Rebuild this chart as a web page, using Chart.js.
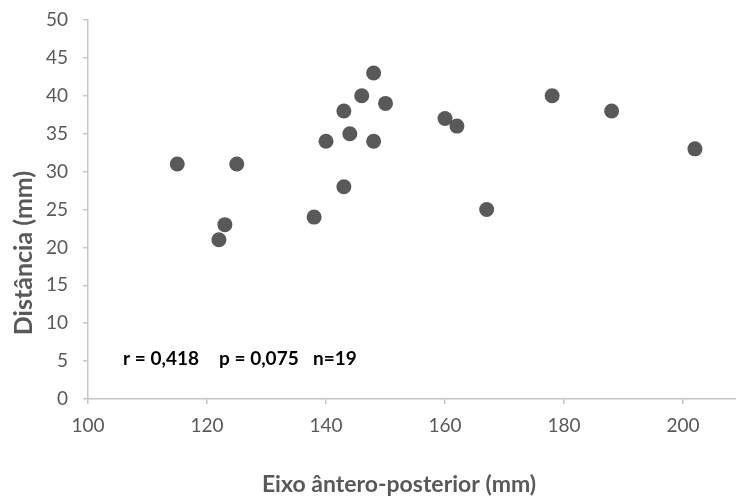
<!DOCTYPE html>
<html>
<head>
<meta charset="utf-8">
<script src="https://cdn.jsdelivr.net/npm/chart.js@4/dist/chart.umd.min.js"></script>
<style>
  html, body { margin: 0; padding: 0; background: #ffffff; }
  #wrap { width: 736px; height: 498px; }
</style>
</head>
<body>
<div id="wrap"><canvas id="c" width="736" height="498"></canvas></div>
<script>
// Data
const eixoAP = [115, 122, 123, 125, 138, 140, 143, 143, 144, 146, 148, 148, 150, 160, 162, 167, 178, 188, 202];
const distancia = [31, 21, 23, 31, 24, 34, 28, 38, 35, 40, 43, 34, 39, 37, 36, 25, 40, 38, 33];
const xTickValues = [100, 120, 140, 160, 180, 200];
const yTickValues = [0, 5, 10, 15, 20, 25, 30, 35, 40, 45, 50];
const xTitle = 'Eixo ântero-posterior (mm)';
const yTitle = 'Distância (mm)';
const statsTexts = ['r = 0,418', 'p = 0,075', 'n=19'];

const points = eixoAP.map((x, i) => ({ x: x, y: distancia[i] }));

const FONT = "Lato, 'Open Sans', 'DejaVu Sans', sans-serif";
const GREY = '#595959';
const AXIS = '#c6c6c6';

const textPlugin = {
  id: 'textPlugin',
  afterDraw(chart) {
    const ctx = chart.ctx;
    const xs = chart.scales.x, ys = chart.scales.y;
    ctx.save();
    // axis titles
    ctx.fillStyle = GREY;
    ctx.font = "bold 23px " + FONT;
    ctx.textAlign = 'center';
    ctx.textBaseline = 'middle';
    ctx.fillText(xTitle, 399, 485);
    ctx.save();
    ctx.font = "bold 25px " + FONT;
    ctx.translate(24, 253);
    ctx.rotate(-Math.PI / 2);
    ctx.fillText(yTitle, 0, 0);
    ctx.restore();
    // statistics annotation
    ctx.fillStyle = '#000000';
    ctx.font = "bold 19px " + FONT;
    ctx.textAlign = 'left';
    const xStart = xs.getPixelForValue(105.9);
    const yMid = ys.getPixelForValue(5.3);
    const offsets = [0, 96, 190];
    statsTexts.forEach((t, i) => ctx.fillText(t, xStart + offsets[i], yMid));
    ctx.restore();
  }
};

new Chart(document.getElementById('c'), {
  type: 'scatter',
  data: {
    datasets: [{
      data: points,
      backgroundColor: GREY,
      borderColor: GREY,
      borderWidth: 0,
      pointRadius: 7.5,
      pointHoverRadius: 7.5
    }]
  },
  options: {
    responsive: false,
    animation: false,
    events: [],
    layout: { autoPadding: false, padding: { top: 20, right: 0, left: 0, bottom: 0 } },
    plugins: { legend: { display: false }, tooltip: { enabled: false } },
    scales: {
      x: {
        type: 'linear',
        min: 100,
        max: 208.9,
        afterBuildTicks(scale) { scale.ticks = xTickValues.map(v => ({ value: v })); },
        afterFit(scale) { scale.height = 99; scale.paddingLeft = 0; scale.paddingRight = 0; },
        grid: { display: true, drawOnChartArea: false, drawTicks: true, tickLength: 5, color: AXIS, lineWidth: 1.5 },
        border: { display: true, color: AXIS, width: 1.5 },
        ticks: { color: GREY, font: { family: FONT, size: 19 }, padding: 10, maxRotation: 0 }
      },
      y: {
        type: 'linear',
        min: 0,
        max: 50,
        afterBuildTicks(scale) { scale.ticks = yTickValues.map(v => ({ value: v })); },
        afterFit(scale) { scale.width = 88; scale.paddingTop = 0; scale.paddingBottom = 0; },
        grid: { display: true, drawOnChartArea: false, drawTicks: true, tickLength: 5, color: AXIS, lineWidth: 1.5 },
        border: { display: true, color: AXIS, width: 1.5 },
        ticks: { color: GREY, font: { family: FONT, size: 19 }, padding: 15 }
      }
    }
  },
  plugins: [textPlugin]
});
</script>
</body>
</html>
